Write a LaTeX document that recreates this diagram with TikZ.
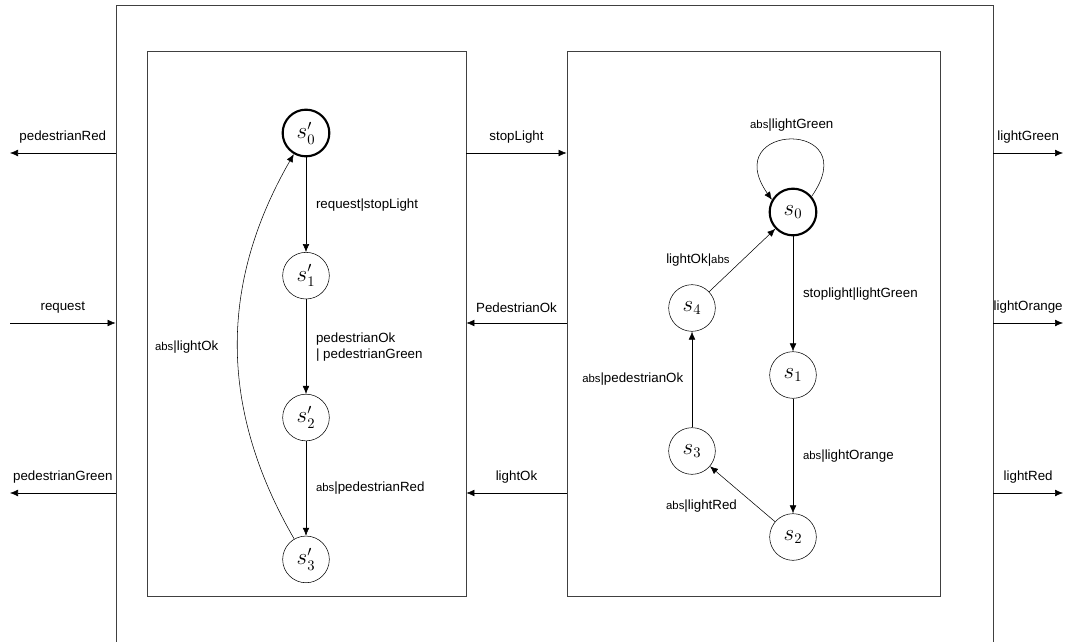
\documentclass[tikz,border=0pt]{standalone}
\usepackage{fontspec}
\setsansfont{Liberation Sans}
\usepackage{tikz}
\usetikzlibrary{positioning,arrows.meta}

\tikzset{
  state/.style={draw, circle, minimum size=35pt, inner sep=0pt, font=\fontsize{16}{18}\selectfont},
  initstate/.style={state, line width=1.6pt},
  block/.style={draw=black!75, line width=0.6pt, inner sep=0pt},
  lbl/.style={font=\sffamily\fontsize{10}{12}\selectfont},
  trans/.style={-{Latex[length=6pt,width=5pt]}},
}
\newcommand{\absact}{{\fontsize{8.5}{10}\selectfont abs}}

\begin{document}
\begin{tikzpicture}[x=0.75pt, y=0.75pt, lbl]
  \useasboundingbox (0,0) rectangle (1065,-642);

  % blocks
  \node[block, minimum width=657.75pt, minimum height=478.5pt] (sys) at (554.5,-324) {};
  \node[block, minimum width=239.25pt, minimum height=408.75pt] (lbox) at (306.5,-323.5) {};
  \node[block, minimum width=279.75pt, minimum height=408.75pt] (rbox) at (753.5,-323.5) {};

  % pedestrian light automaton
  \node[initstate] (p0) at (306,-133) {$s'_0$};
  \node[state, below=71pt of p0] (p1) {$s'_1$};
  \node[state, below=71pt of p1] (p2) {$s'_2$};
  \node[state, below=71pt of p2] (p3) {$s'_3$};

  \draw[trans] (p0) -- node[midway, right=4pt] {request|stopLight} (p1);
  \draw[trans] (p1) -- node[midway, right=4pt, align=left] {pedestrianOk\\| pedestrianGreen} (p2);
  \draw[trans] (p2) -- node[midway, right=4pt] {\absact|pedestrianRed} (p3);
  \draw[trans] (p3) to[bend left=30] node[midway, left=11pt] {\absact|lightOk} (p0);

  % traffic light automaton
  \node[initstate] (s0) at (793,-212) {$s_0$};
  \node[state] (s1) at (793,-375) {$s_1$};
  \node[state] (s2) at (793,-537) {$s_2$};
  \node[state] (s3) at (692,-451) {$s_3$};
  \node[state] (s4) at (692,-308) {$s_4$};

  \draw[trans] (s0.40) .. controls +(55:95) and +(125:95) .. node[pos=0.5, above=3pt] {\absact|lightGreen} (s0.150);
  \draw[trans] (s0) -- node[midway, right=4pt] {stoplight|lightGreen} (s1);
  \draw[trans] (s1) -- node[midway, right=4pt] {\absact|lightOrange} (s2);
  \draw[trans] (s2) -- node[midway, below left=1pt] {\absact|lightRed} (s3);
  \draw[trans] (s3) -- node[midway, left=3pt] {\absact|pedestrianOk} (s4);
  \draw[trans] (s4) -- node[midway, left=6pt] {lightOk|\absact} (s0);

  % signals between the blocks
  \draw[trans] (lbox.east |- 0,-153) -- node[midway, above=4pt] {stopLight} (rbox.west |- 0,-153);
  \draw[trans] (rbox.west |- 0,-323) -- node[midway, above=4pt] {PedestrianOk} (lbox.east |- 0,-323);
  \draw[trans] (rbox.west |- 0,-493) -- node[midway, above=4pt] {lightOk} (lbox.east |- 0,-493);

  % inputs and outputs
  \coordinate (pedRed) at (10,-153);
  \coordinate (req) at (10,-323);
  \coordinate (pedGreen) at (10,-493);
  \coordinate (lGreen) at (1063,-153);
  \coordinate (lOrange) at (1063,-323);
  \coordinate (lRed) at (1063,-493);

  \draw[trans] (sys.west |- pedRed) -- node[midway, above=4pt] {pedestrianRed} (pedRed);
  \draw[trans] (req) -- node[midway, above=4pt] {request} (sys.west |- req);
  \draw[trans] (sys.west |- pedGreen) -- node[midway, above=4pt] {pedestrianGreen} (pedGreen);
  \draw[trans] (sys.east |- lGreen) -- node[midway, above=4pt] {lightGreen} (lGreen);
  \draw[trans] (sys.east |- lOrange) -- node[midway, above=4pt] {lightOrange} (lOrange);
  \draw[trans] (sys.east |- lRed) -- node[midway, above=4pt] {lightRed} (lRed);
\end{tikzpicture}
\end{document}
